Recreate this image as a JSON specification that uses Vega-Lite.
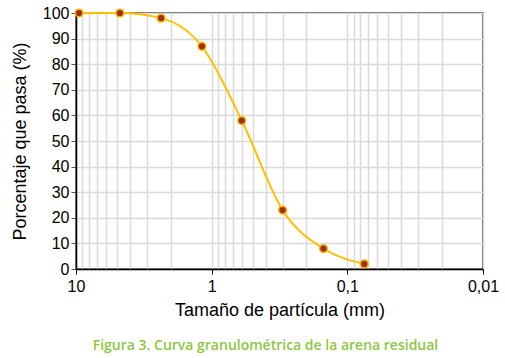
{
  "$schema": "https://vega.github.io/schema/vega-lite/v6.json",
  "autosize": "none",
  "width": 407,
  "height": 256,
  "padding": {"left": 76, "top": 13, "right": 22, "bottom": 89},
  "background": "white",
  "config": {
    "view": {"stroke": "#333333", "strokeWidth": 1.5},
    "font": "Liberation Sans"
  },
  "title": {
    "text": "Figura 3. Curva granulométrica de la arena residual",
    "orient": "bottom",
    "anchor": "middle",
    "offset": 20,
    "dx": -14,
    "font": "Open Sans",
    "fontSize": 14,
    "fontWeight": 600,
    "color": "#8cc63f"
  },
  "data": {
    "values": [
      {"size": 9.5, "pass": 100},
      {"size": 4.75, "pass": 100},
      {"size": 2.36, "pass": 98},
      {"size": 1.18, "pass": 87},
      {"size": 0.6, "pass": 58},
      {"size": 0.3, "pass": 23},
      {"size": 0.15, "pass": 8},
      {"size": 0.075, "pass": 2}
    ]
  },
  "encoding": {
    "x": {
      "field": "size",
      "type": "quantitative",
      "scale": {"type": "log", "domain": [0.01, 10], "reverse": true, "nice": false},
      "axis": {
        "title": "Tamaño de partícula (mm)",
        "titleFontSize": 18,
        "titleFontWeight": "normal",
        "titleColor": "#000000",
        "titlePadding": 7,
        "values": [10, 9, 8, 7, 6, 5, 4, 3, 2, 1, 0.9, 0.8, 0.7, 0.6, 0.5, 0.4, 0.3, 0.2, 0.1, 0.09, 0.08, 0.07, 0.06, 0.05, 0.04, 0.03, 0.02, 0.01],
        "labelExpr": "abs(log(datum.value)/LN10 - round(log(datum.value)/LN10)) < 0.001 ? replace(format(datum.value, '~g'), '.', ',') : ''",
        "labelFontSize": 16,
        "labelColor": "#000000",
        "labelPadding": 4,
        "labelOverlap": false,
        "labelFlush": false,
        "tickSize": 5,
        "tickColor": "#000000",
        "tickOpacity": {"condition": {"test": "abs(log(datum.value)/LN10 - round(log(datum.value)/LN10)) < 0.001", "value": 1}, "value": 0},
        "grid": true,
        "gridColor": "#d9d9d9",
        "gridWidth": 1.5,
        "domainColor": "#000000",
        "domainWidth": 1.5
      }
    },
    "y": {
      "field": "pass",
      "type": "quantitative",
      "scale": {"domain": [0, 100], "nice": false},
      "axis": {
        "title": "Porcentaje que pasa (%)",
        "titleFontSize": 18,
        "titleFontWeight": "normal",
        "titleColor": "#000000",
        "titlePadding": 13,
        "values": [0, 10, 20, 30, 40, 50, 60, 70, 80, 90, 100],
        "labelFontSize": 16,
        "labelColor": "#000000",
        "labelPadding": 2,
        "tickSize": 5,
        "tickColor": "#555555",
        "grid": true,
        "gridColor": "#d9d9d9",
        "gridWidth": 1.5,
        "domainColor": "#000000",
        "domainWidth": 1.5
      }
    }
  },
  "layer": [
    {
      "mark": {"type": "line", "interpolate": "monotone", "color": "#ffc000", "strokeWidth": 2}
    },
    {
      "mark": {"type": "point", "filled": true, "fill": "#a0301a", "stroke": "#f5b400", "strokeWidth": 1.5, "size": 60, "opacity": 1}
    }
  ]
}
